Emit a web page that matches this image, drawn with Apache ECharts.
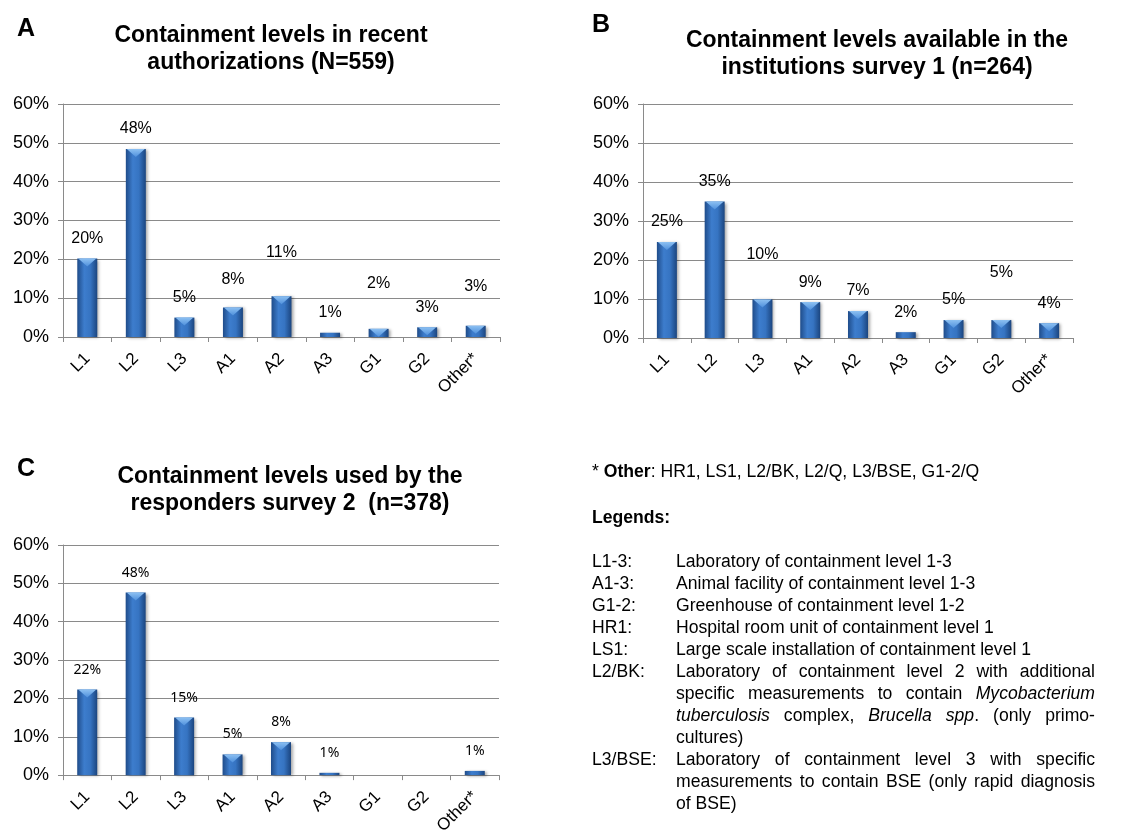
<!DOCTYPE html>
<html>
<head>
<meta charset="utf-8">
<script src="https://cdn.jsdelivr.net/npm/echarts@6/dist/echarts.min.js"></script>
<style>
  html, body { margin: 0; padding: 0; background: #fff; }
  #wrap { position: relative; width: 1127px; height: 837px; }
  #chart { position: absolute; left: 0; top: 0; width: 1127px; height: 837px; }
  #notes { position: absolute; left: 592px; top: 460px; width: 503px; font: 17.6px/22px 'Liberation Sans', Arial, sans-serif; color: #000; }
  #notes .row { display: flex; }
  #notes .k { width: 84px; flex: none; }
  #notes .v { flex: 1; text-align: justify; }
</style>
</head>
<body>
<div id="wrap">
  <div id="chart"></div>
  <div id="notes">
    <div>* <b>Other</b>: HR1, LS1, L2/BK, L2/Q, L3/BSE, G1-2/Q</div>
    <div style="margin-top:24px"><b>Legends:</b></div>
    <div style="margin-top:22px">
      <div class="row"><div class="k">L1-3:</div><div class="v">Laboratory of containment level 1-3</div></div>
      <div class="row"><div class="k">A1-3:</div><div class="v">Animal facility of containment level 1-3</div></div>
      <div class="row"><div class="k">G1-2:</div><div class="v">Greenhouse of containment level 1-2</div></div>
      <div class="row"><div class="k">HR1:</div><div class="v">Hospital room unit of containment level 1</div></div>
      <div class="row"><div class="k">LS1:</div><div class="v">Large scale installation of containment level 1</div></div>
      <div class="row"><div class="k">L2/BK:</div><div class="v">Laboratory of containment level 2 with additional specific measurements to contain <i>Mycobacterium tuberculosis</i> complex, <i>Brucella spp</i>. (only primo-cultures)</div></div>
      <div class="row"><div class="k">L3/BSE:</div><div class="v">Laboratory of containment level 3 with specific measurements to contain BSE (only rapid diagnosis of BSE)</div></div>
    </div>
  </div>
</div>
<script>
// ---------------- data ----------------
const categories = ['L1', 'L2', 'L3', 'A1', 'A2', 'A3', 'G1', 'G2', 'Other*'];
const valuesA = [20.2, 48.4, 5.0, 7.6, 10.5, 1.1, 2.1, 2.5, 2.9];
const valuesB = [24.6, 35.0, 9.9, 9.2, 6.9, 1.5, 4.6, 4.6, 3.8];
const valuesC = [22.3, 47.6, 15.0, 5.4, 8.6, 0.6, 0, 0, 1.1];
const labelsA = ['20%', '48%', '5%', '8%', '11%', '1%', '2%', '3%', '3%'];
const labelsB = ['25%', '35%', '10%', '9%', '7%', '2%', '5%', '5%', '4%'];
const labelsC = ['22%', '48%', '15%', '5%', '8%', '1%', '', '', '1%'];
const yMin = 0, yMax = 60, yStep = 10;
const titleA = 'Containment levels in recent\nauthorizations (N=559)';
const titleB = 'Containment levels available in the\ninstitutions survey 1 (n=264)';
const titleC = 'Containment levels used by the\nresponders survey 2  (n=378)';

// ---------------- styles ----------------
const FONT = 'Liberation Sans';
const liftA = [0, 0, 0, 8, 24, 0, 25, 0, 19];
const liftB = [0, 0, 25, 0, 0, 0, 0, 27, 0];
const liftC = [0, 0, 0, 0, 0, 0, 0, 0, 0];
const grids = [
  { left: 63, top: 104, width: 437, height: 233 },
  { left: 643, top: 104, width: 430, height: 234 },
  { left: 63, top: 545, width: 436, height: 233 }
];

const barColor = new echarts.graphic.LinearGradient(0, 0, 1, 0, [
  { offset: 0, color: '#1f4c8a' },
  { offset: 0.35, color: '#3d7dcd' },
  { offset: 0.65, color: '#3674c2' },
  { offset: 1, color: '#1b457f' }
]);
const triColor = new echarts.graphic.LinearGradient(0, 0, 0, 1, [
  { offset: 0, color: '#8cc0f2' },
  { offset: 1, color: '#4f90dc' }
]);

function xAxisFor(i) {
  return {
    type: 'category', gridIndex: i, data: categories,
    axisLine: { lineStyle: { color: '#8a8a8a', width: 1 } },
    axisTick: { show: true, length: 5, lineStyle: { color: '#8a8a8a' } },
    axisLabel: { rotate: 45, fontFamily: FONT, fontSize: 17, color: '#000', margin: 19 }
  };
}
function yAxisFor(i) {
  return {
    type: 'value', gridIndex: i, min: yMin, max: yMax, interval: yStep,
    axisLine: { show: true, lineStyle: { color: '#8a8a8a', width: 1 } },
    axisTick: { show: true, length: 5, lineStyle: { color: '#8a8a8a' } },
    splitLine: { show: true, lineStyle: { color: '#8a8a8a', width: 1 } },
    axisLabel: { formatter: '{value}%', fontFamily: FONT, fontSize: 18, color: '#000', margin: 14 }
  };
}
function barSeries(i, values, labels, lifts, labelFont, labelSize, baseDist) {
  return {
    type: 'bar', xAxisIndex: i, yAxisIndex: i, barWidth: 20,
    data: values.map((v, k) => ({
      value: v,
      label: {
        show: labels[k] !== '', formatter: labels[k], position: 'top',
        distance: baseDist + lifts[k], fontFamily: labelFont, fontSize: labelSize, color: '#000'
      }
    })),
    itemStyle: { color: barColor, shadowColor: 'rgba(0,0,0,0.35)', shadowBlur: 3, shadowOffsetX: 2, shadowOffsetY: 1 },
    z: 2
  };
}
function triSeries(i, values) {
  return {
    type: 'pictorialBar', xAxisIndex: i, yAxisIndex: i,
    symbol: 'path://M0,0L10,0L5,7Z', symbolSize: [18, 8], symbolPosition: 'end',
    data: values.map(v => (v >= 2 ? v : '-')),
    itemStyle: { color: triColor },
    silent: true, z: 3
  };
}

const chart = echarts.init(document.getElementById('chart'), null, { renderer: 'canvas' });
chart.setOption({
  animation: false,
  backgroundColor: '#fff',
  title: [
    { text: titleA, left: 266, top: 17, textAlign: 'center', textStyle: { fontFamily: FONT, fontSize: 23, fontWeight: 'bold', lineHeight: 27, color: '#000' } },
    { text: titleB, left: 872, top: 22, textAlign: 'center', textStyle: { fontFamily: FONT, fontSize: 23, fontWeight: 'bold', lineHeight: 27, color: '#000' } },
    { text: titleC, left: 285, top: 458, textAlign: 'center', textStyle: { fontFamily: FONT, fontSize: 23, fontWeight: 'bold', lineHeight: 27, color: '#000' } },
    { text: 'A', left: 12, top: 12, textStyle: { fontFamily: FONT, fontSize: 25, fontWeight: 'bold', color: '#000' } },
    { text: 'B', left: 587, top: 8, textStyle: { fontFamily: FONT, fontSize: 25, fontWeight: 'bold', color: '#000' } },
    { text: 'C', left: 12, top: 452, textStyle: { fontFamily: FONT, fontSize: 25, fontWeight: 'bold', color: '#000' } }
  ],
  grid: grids,
  xAxis: [xAxisFor(0), xAxisFor(1), xAxisFor(2)],
  yAxis: [yAxisFor(0), yAxisFor(1), yAxisFor(2)],
  series: [
    barSeries(0, valuesA, labelsA, liftA, FONT, 16, 12),
    triSeries(0, valuesA),
    barSeries(1, valuesB, labelsB, liftB, FONT, 16, 12),
    triSeries(1, valuesB),
    barSeries(2, valuesC, labelsC, liftC, 'Noto Sans', 14, 13),
    triSeries(2, valuesC)
  ]
});
</script>
</body>
</html>
